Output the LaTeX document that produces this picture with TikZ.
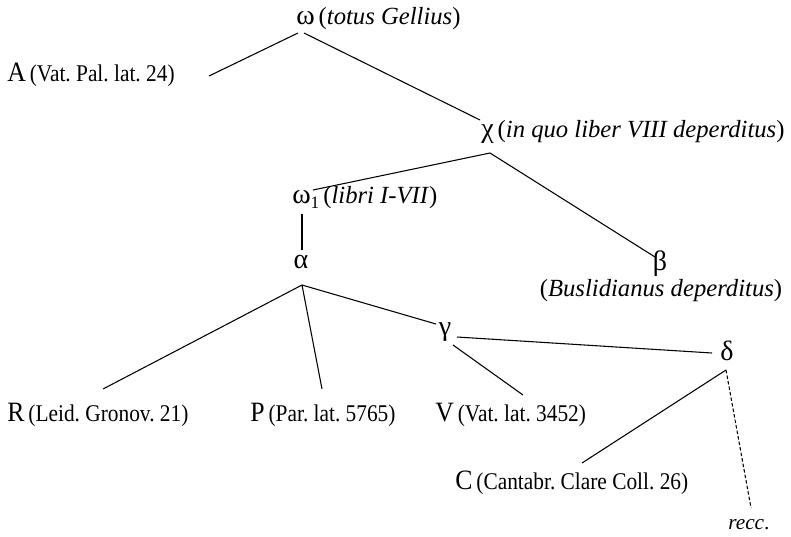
\documentclass[tikz,border=0pt]{standalone}
\usepackage{fontspec}
\setmainfont{Liberation Serif}
\newfontfamily\condfont[FakeStretch=0.89]{Liberation Serif}
\newfontfamily\sigfont[FakeStretch=0.92]{Liberation Serif}
\frenchspacing
\newcommand{\sig}[1]{{\sigfont\fontsize{21}{24}\selectfont #1}}
\newcommand{\gsig}[1]{{\fontsize{21}{24}\selectfont #1}}
\newcommand{\upt}[1]{{\condfont\fontsize{18}{21}\selectfont #1}}
\newcommand{\itl}[1]{{\fontsize{18.5}{21}\selectfont(\textit{#1})}}
\begin{document}
\begin{tikzpicture}[x=0.75pt,y=-0.75pt,
  lbl/.style={inner sep=0pt,anchor=base west},
  clbl/.style={inner sep=0pt,anchor=base},
  edge/.style={line width=0.8pt},
  dedge/.style={line width=0.8pt,dash pattern=on 2.6pt off 1.6pt}]
\useasboundingbox (0,0) rectangle (791,536);
% nodes
\node[lbl] (om) at (296,24) {\gsig{ω}\hspace{0.3em}\itl{totus Gellius}};
\node[lbl] (A) at (7,81) {\sig{A}\hspace{0.3em}\upt{(Vat. Pal. lat. 24)}};
\node[lbl] (chi) at (481,137) {\gsig{χ}\hspace{0.3em}\itl{in quo liber VIII deperditus}};
\node[lbl] (om1) at (292,203) {\gsig{ω\raisebox{-0.4ex}{\fontsize{13}{13}\selectfont 1}}\hspace{0.3em}\itl{libri I-VII}};
\node[clbl] (al) at (301,268) {\gsig{α}};
\node[clbl] (be) at (660,270) {\gsig{β}};
\node[clbl] (bus) at (661,296) {\itl{Buslidianus deperditus}};
\node[clbl] (ga) at (445,335) {\gsig{γ}};
\node[clbl] (de) at (727,360) {\gsig{δ}};
\node[lbl] (R) at (7,421) {\sig{R}\hspace{0.3em}\upt{(Leid. Gronov. 21)}};
\node[lbl] (P) at (250,421) {\sig{P}\hspace{0.3em}\upt{(Par. lat. 5765)}};
\node[lbl] (V) at (435,421) {\sig{V}\hspace{0.3em}\upt{(Vat. lat. 3452)}};
\node[lbl] (C) at (455,489) {\sig{C}\hspace{0.3em}\upt{(Cantabr. Clare Coll. 26)}};
\node[lbl] (recc) at (728,529) {{\fontsize{16}{18}\selectfont\textit{recc}.}};
% connector end points
\coordinate (omL) at (298,33);
\coordinate (omR) at (304,33);
\coordinate (Aend) at (209,76);
\coordinate (chiT) at (480,120);
\coordinate (chiB) at (490,153);
\coordinate (om1T) at (313,190);
\coordinate (beT) at (655,257);
\coordinate (om1B) at (302,214);
\coordinate (alT) at (302,250);
\coordinate (alB) at (302,285);
\coordinate (Rend) at (103,389);
\coordinate (Pend) at (322,389);
\coordinate (gaL) at (436,324);
\coordinate (gaR) at (457,337);
\coordinate (gaB) at (453,345);
\coordinate (Vend) at (523,395);
\coordinate (deL) at (712,353);
\coordinate (deB) at (726,370);
\coordinate (Cend) at (582,463);
\coordinate (reccT) at (751,508);
% connectors
\draw[edge] (omL) -- (Aend);
\draw[edge] (omR) -- (chiT);
\draw[edge] (chiB) -- (om1T);
\draw[edge] (chiB) -- (beT);
\draw[edge] (om1B) -- (alT);
\draw[edge] (alB) -- (Rend);
\draw[edge] (alB) -- (Pend);
\draw[edge] (alB) -- (gaL);
\draw[edge] (gaR) -- (deL);
\draw[edge] (gaB) -- (Vend);
\draw[edge] (deB) -- (Cend);
\draw[dedge] (deB) -- (reccT);
\end{tikzpicture}
\end{document}
